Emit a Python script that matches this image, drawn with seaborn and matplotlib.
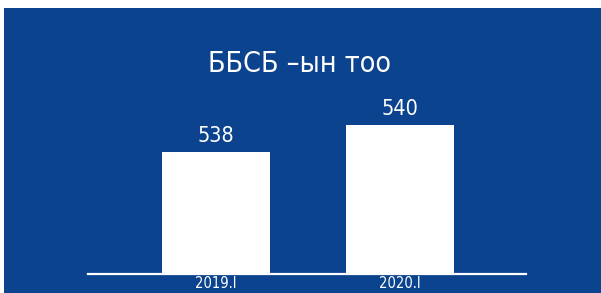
import matplotlib
matplotlib.use("Agg")
import matplotlib.pyplot as plt
import seaborn as sns
from matplotlib.patches import Rectangle

# data
years = ["2019.I", "2020.I"]
counts = [538, 540]
title = "ББСБ –ын тоо"

blue = "#0B438E"

sns.set_theme(style="white")
plt.rcParams['font.family'] = ['DejaVu Sans']
plt.rcParams['font.stretch'] = 'condensed'

fig = plt.figure(figsize=(6.01, 2.93), dpi=100, facecolor="white")
# blue panel, white strip at top and left
fig.patches.append(Rectangle((4 / 601, 0), 1, 285 / 293, transform=fig.transFigure,
                             facecolor=blue, edgecolor="none", zorder=-5))

ax = fig.add_axes([88 / 601, 19 / 293, 438 / 601, 266 / 293])
ax.set_facecolor("none")

sns.barplot(x=years, y=counts, color="white", saturation=1, width=0.587,
            linewidth=0, ax=ax)

# axis does not start at zero in the original
ax.set_ylim(529.0, 548.6)
ax.set_xlim(-0.696, 1.685)

for s in ["top", "left", "right"]:
    ax.spines[s].set_visible(False)
ax.spines["bottom"].set_color("white")
ax.spines["bottom"].set_linewidth(1.6)

ax.set_yticks([])
ax.tick_params(axis="x", length=0, pad=1.5, labelsize=10.5, labelcolor="white")
ax.set_xlabel("")
ax.set_ylabel("")

ax.bar_label(ax.containers[0], labels=[str(v) for v in counts], padding=4,
             fontsize=15.5, color="white")

fig.text(299 / 601, 1 - 64 / 293, title, ha="center", va="center",
         fontsize=20.5, color="white", fontstretch="condensed")

fig.savefig("out.png", dpi=100, facecolor="white")
